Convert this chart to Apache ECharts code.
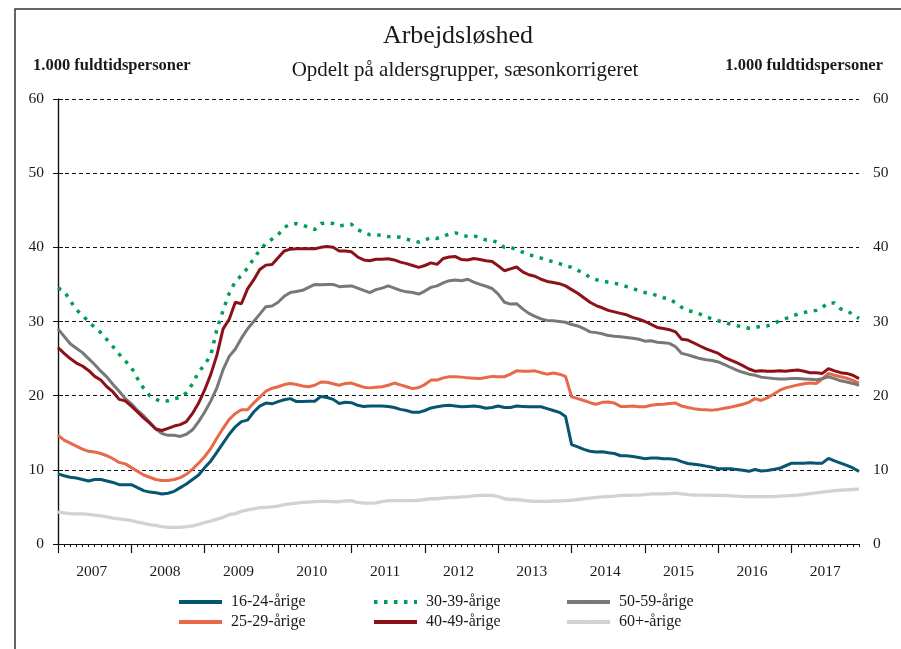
<!DOCTYPE html>
<html>
<head>
<meta charset="UTF-8">
<title>Arbejdsløshed</title>
<script src="https://cdn.jsdelivr.net/npm/echarts@6/dist/echarts.min.js"></script>
<style>
  body { margin:0; background:#fff; }
  #chart { width:901px; height:649px; }
</style>
</head>
<body>
<div id="chart"></div>
<script>
// månedlige tal, jan 2007 - dec 2017 (1.000 fuldtidspersoner)
var years = ['2007','2008','2009','2010','2011','2012','2013','2014','2015','2016','2017'];

var age1624 = [
  9.45, 9.2, 9.0, 8.9, 8.7, 8.5, 8.7, 8.7, 8.5, 8.3, 8.0, 8.0,
  8.0, 7.6, 7.2, 7.0, 6.9, 6.75, 6.85, 7.1, 7.6, 8.1, 8.7, 9.3,
  10.3, 11.2, 12.4, 13.6, 14.8, 15.8, 16.5, 16.7, 17.8, 18.6, 19.0, 18.9,
  19.2, 19.45, 19.6, 19.2, 19.2, 19.25, 19.25, 19.9, 19.75, 19.5, 18.95, 19.1,
  19.05, 18.7, 18.55, 18.6, 18.6, 18.6, 18.55, 18.4, 18.15, 18.0, 17.75, 17.75,
  18.0, 18.35, 18.5, 18.65, 18.7, 18.6, 18.5, 18.55, 18.6, 18.5, 18.3, 18.4,
  18.6, 18.4, 18.4, 18.6, 18.55, 18.5, 18.5, 18.5, 18.25, 18.0, 17.75, 17.2,
  13.4, 13.1, 12.75, 12.5, 12.4, 12.45, 12.3, 12.2, 11.9, 11.9, 11.8, 11.65,
  11.5, 11.6, 11.6, 11.5, 11.5, 11.4, 11.1, 10.85, 10.75, 10.65, 10.5, 10.35,
  10.15, 10.15, 10.15, 10.05, 9.95, 9.8, 10.05, 9.85, 9.9, 10.05, 10.2, 10.55,
  10.9, 10.9, 10.9, 10.95, 10.9, 10.9, 11.55, 11.2, 10.9, 10.6, 10.25, 9.8
];
var age2529 = [
  14.65, 14.0, 13.6, 13.2, 12.8, 12.5, 12.4, 12.2, 11.9, 11.5, 11.0, 10.8,
  10.3, 9.8, 9.3, 9.0, 8.7, 8.55, 8.55, 8.7, 8.95, 9.4, 10.1, 10.9,
  11.8, 12.9, 14.3, 15.6, 16.8, 17.6, 18.1, 18.1, 19.0, 19.8, 20.6, 21.0,
  21.2, 21.5, 21.65, 21.5, 21.3, 21.2, 21.4, 21.85, 21.8, 21.6, 21.4, 21.65,
  21.7, 21.4, 21.15, 21.05, 21.15, 21.2, 21.4, 21.7, 21.45, 21.2, 20.95, 21.1,
  21.5, 22.1, 22.1, 22.4, 22.55, 22.55, 22.5, 22.4, 22.35, 22.3, 22.45, 22.6,
  22.55, 22.55, 22.9, 23.35, 23.3, 23.3, 23.35, 23.1, 22.9, 23.05, 22.9, 22.6,
  19.85, 19.6, 19.35, 19.05, 18.85, 19.1, 19.15, 19.0, 18.55, 18.55, 18.6, 18.5,
  18.5, 18.7, 18.8, 18.85, 18.95, 19.0, 18.6, 18.4, 18.25, 18.15, 18.1, 18.05,
  18.15, 18.3, 18.45, 18.65, 18.85, 19.1, 19.6, 19.35, 19.7, 20.2, 20.7, 21.05,
  21.25, 21.45, 21.6, 21.7, 21.65, 22.25, 23.0, 22.75, 22.55, 22.35, 22.05, 21.7
];
var age3039 = [
  34.5, 34.1, 32.8, 31.6, 30.8, 30.0, 29.2, 28.5, 27.55, 26.6, 25.6, 24.7,
  23.8, 22.3, 21.0, 20.0, 19.5, 19.2, 19.3, 19.6, 19.75, 20.4, 21.6, 23.2,
  24.2, 25.5, 29.0, 31.5, 33.8, 35.4, 36.2, 37.2, 38.5, 39.6, 40.5, 41.1,
  41.7, 42.7, 43.1, 43.2, 43.0, 42.7, 42.4, 43.2, 43.3, 43.2, 42.9, 43.0,
  43.1, 42.4, 42.0, 41.7, 41.7, 41.6, 41.45, 41.4, 41.35, 41.1, 40.9, 40.7,
  41.0, 41.3, 41.2, 41.5, 41.8, 41.95, 41.7, 41.45, 41.55, 41.3, 41.0, 40.95,
  40.6, 40.0, 40.0, 39.7, 39.35, 39.0, 38.8, 38.55, 38.3, 38.05, 37.8, 37.55,
  37.3, 36.9, 36.5, 35.95, 35.65, 35.45, 35.3, 35.15, 35.0, 34.7, 34.45, 34.15,
  33.9, 33.75, 33.5, 33.2, 33.05, 32.5, 31.9, 31.5, 31.25, 31.0, 30.65, 30.35,
  30.1, 29.85, 29.65, 29.45, 29.25, 29.1, 29.2, 29.35, 29.4, 29.7, 30.1, 30.4,
  30.7, 31.0, 31.2, 31.4, 31.5, 31.9, 32.5, 32.5, 31.7, 31.4, 31.0, 30.4
];
var age4049 = [
  26.5, 25.7, 25.0, 24.4, 24.0, 23.4, 22.6, 22.1, 21.2, 20.5, 19.5, 19.3,
  18.6, 17.8, 17.0, 16.3, 15.5, 15.3, 15.6, 15.9, 16.1, 16.5, 17.6, 19.0,
  20.8, 22.9, 25.5, 29.0, 30.3, 32.6, 32.4, 34.4, 35.6, 37.0, 37.6, 37.7,
  38.6, 39.5, 39.75, 39.8, 39.8, 39.8, 39.8, 40.0, 40.1, 40.0, 39.5, 39.5,
  39.4, 38.7, 38.3, 38.2, 38.4, 38.4, 38.45, 38.3, 38.0, 37.8, 37.55, 37.3,
  37.55, 37.9, 37.7, 38.5, 38.7, 38.75, 38.35, 38.3, 38.5, 38.35, 38.2, 38.1,
  37.5, 36.85, 37.1, 37.35, 36.7, 36.3, 36.1, 35.7, 35.4, 35.25, 35.1, 34.8,
  34.3, 33.8, 33.2, 32.6, 32.15, 31.85, 31.5, 31.3, 31.1, 30.9, 30.55, 30.3,
  30.0, 29.6, 29.2, 29.05, 28.9, 28.6, 27.6, 27.5, 27.1, 26.7, 26.3, 26.0,
  25.7, 25.15, 24.8, 24.45, 24.05, 23.6, 23.3, 23.35, 23.3, 23.3, 23.35, 23.3,
  23.4, 23.45, 23.3, 23.1, 23.1, 23.0, 23.65, 23.35, 23.1, 23.0, 22.75, 22.3
];
var age5059 = [
  29.0, 28.0, 27.0, 26.4, 25.8, 25.0, 24.2, 23.3, 22.5, 21.5, 20.6, 19.6,
  18.9, 18.0, 17.3, 16.4, 15.5, 14.9, 14.65, 14.65, 14.5, 14.8, 15.4, 16.5,
  17.8, 19.3, 21.1, 23.5, 25.3, 26.3, 27.75, 29.0, 30.0, 31.0, 32.0, 32.1,
  32.6, 33.4, 33.9, 34.05, 34.2, 34.6, 35.0, 34.95, 35.0, 35.0, 34.7, 34.75,
  34.8, 34.5, 34.2, 33.9, 34.3, 34.5, 34.8, 34.5, 34.2, 34.0, 33.9, 33.7,
  34.1, 34.6, 34.8, 35.2, 35.5, 35.6, 35.5, 35.7, 35.3, 35.0, 34.75, 34.45,
  33.7, 32.6, 32.35, 32.4, 31.7, 31.1, 30.7, 30.35, 30.15, 30.1, 30.0, 29.9,
  29.6, 29.4, 29.05, 28.6, 28.5, 28.35, 28.1, 28.0, 27.95, 27.85, 27.75, 27.6,
  27.35, 27.4, 27.2, 27.15, 27.05, 26.6, 25.7, 25.5, 25.25, 25.0, 24.85, 24.75,
  24.55, 24.2, 23.8, 23.45, 23.15, 22.9, 22.75, 22.5, 22.4, 22.3, 22.25, 22.25,
  22.3, 22.3, 22.25, 22.2, 22.15, 22.3, 22.55, 22.3, 22.0, 21.85, 21.65, 21.4
];
var age60 = [
  4.3, 4.2, 4.1, 4.05, 4.05, 4.0, 3.9, 3.8, 3.65, 3.5, 3.4, 3.3,
  3.15, 2.95, 2.8, 2.6, 2.5, 2.35, 2.25, 2.25, 2.25, 2.35, 2.45, 2.65,
  2.9, 3.1, 3.35, 3.6, 3.95, 4.1, 4.4, 4.6, 4.75, 4.9, 4.95, 5.0,
  5.1, 5.3, 5.4, 5.5, 5.6, 5.65, 5.7, 5.75, 5.75, 5.7, 5.7, 5.8,
  5.85, 5.6, 5.5, 5.5, 5.55, 5.7, 5.85, 5.85, 5.85, 5.85, 5.85, 5.9,
  6.0, 6.1, 6.1, 6.2, 6.25, 6.3, 6.35, 6.4, 6.5, 6.55, 6.55, 6.55,
  6.4, 6.1, 6.0, 6.0, 5.9, 5.8, 5.75, 5.75, 5.75, 5.8, 5.8, 5.85,
  5.9, 6.0, 6.1, 6.2, 6.3, 6.35, 6.4, 6.45, 6.55, 6.55, 6.6, 6.6,
  6.65, 6.75, 6.75, 6.75, 6.8, 6.85, 6.75, 6.65, 6.6, 6.6, 6.6, 6.55,
  6.55, 6.55, 6.5, 6.45, 6.4, 6.4, 6.4, 6.4, 6.4, 6.4, 6.45, 6.5,
  6.55, 6.6, 6.7, 6.8, 6.9, 7.0, 7.1, 7.2, 7.25, 7.3, 7.35, 7.4
];

var seriesNames = ['16-24-årige', '25-29-årige', '30-39-årige', '40-49-årige', '50-59-årige', '60+-årige'];
var seriesColors = ['#065670', '#e8694a', '#009e55', '#8c1119', '#787878', '#d2d2d2'];

var serif = '"Liberation Serif", "DejaVu Serif", serif';
var textColor = '#1a1a1a';

function toPoints(arr) {
  var out = [];
  for (var i = 0; i < arr.length; i++)
    out.push([i, arr[i]]);
  return out;
}

var lastMonth = age1624.length - 1;
var yearTicks = [], yearCenters = [], monthTicks = [];
for (var y = 0; y < years.length; y++) {
  yearTicks.push(y * 12);
  yearCenters.push(y * 12 + 5.5);
}
for (var m = 0; m <= lastMonth; m++)
  monthTicks.push(m);

function makeLine(idx, data, dotted) {
  return {
    name: seriesNames[idx],
    type: 'line',
    xAxisIndex: 0,
    yAxisIndex: 0,
    data: toPoints(data),
    symbol: 'none',
    z: idx === 5 ? 1 : 3,
    color: seriesColors[idx],
    lineStyle: dotted
      ? { width: 3.5, color: seriesColors[idx], type: [3.5, 6.5], cap: 'butt' }
      : { width: idx === 5 ? 3.3 : 3, color: seriesColors[idx] }
  };
}

function makeLegend(left, names) {
  return {
    orient: 'vertical',
    left: left,
    top: 593,
    padding: 0,
    itemWidth: 43,
    itemHeight: 4,
    itemGap: 2,
    data: names,
    selectedMode: false,
    textStyle: { fontFamily: serif, fontSize: 16, color: textColor, lineHeight: 18, padding: [0, 0, 0, 4] },
    lineStyle: { width: 4 }
  };
}

var chart = echarts.init(document.getElementById('chart'));

var option = {
  animation: false,
  backgroundColor: '#fff',
  grid: { left: 58, right: 42, top: 99, bottom: 105 },
  graphic: [
    { type: 'rect', shape: { x: 15, y: 9, width: 1000, height: 1000 },
      style: { fill: 'none', stroke: '#333', lineWidth: 1.5 }, silent: true },
    { type: 'text', x: 458, y: 36,
      style: { text: 'Arbejdsløshed', fontFamily: serif, fontSize: 26, fill: textColor, align: 'center', verticalAlign: 'middle' } },
    { type: 'text', x: 465, y: 70,
      style: { text: 'Opdelt på aldersgrupper, sæsonkorrigeret', fontFamily: serif, fontSize: 21, fill: textColor, align: 'center', verticalAlign: 'middle' } },
    { type: 'text', x: 33, y: 66,
      style: { text: '1.000 fuldtidspersoner', fontFamily: serif, fontSize: 16.5, fontWeight: 'bold', fill: textColor, align: 'left', verticalAlign: 'middle' } },
    { type: 'text', x: 883, y: 66,
      style: { text: '1.000 fuldtidspersoner', fontFamily: serif, fontSize: 16.5, fontWeight: 'bold', fill: textColor, align: 'right', verticalAlign: 'middle' } }
  ],
  legend: [
    makeLegend(177, [seriesNames[0], seriesNames[1]]),
    makeLegend(372, [seriesNames[2], seriesNames[3]]),
    makeLegend(565, [seriesNames[4], seriesNames[5]])
  ],
  xAxis: [
    {
      // månedsstreger
      type: 'value', min: 0, max: lastMonth, interval: 12,
      axisLine: { show: true, lineStyle: { color: '#111', width: 1.2 } },
      axisTick: { show: true, customValues: monthTicks, length: 3, lineStyle: { color: '#111', width: 1 } },
      axisLabel: { show: false },
      splitLine: { show: false }
    },
    {
      // årsstreger og årstal
      type: 'value', min: 0, max: lastMonth, interval: 12, position: 'bottom',
      axisLine: { show: false },
      axisTick: { show: true, customValues: yearTicks, length: 9, lineStyle: { color: '#111', width: 1.2 } },
      axisLabel: {
        show: true, customValues: yearCenters, margin: 20,
        fontFamily: serif, fontSize: 15.5, color: textColor,
        formatter: function (v) { return years[Math.floor(v / 12)]; }
      },
      splitLine: { show: false }
    }
  ],
  yAxis: [
    {
      type: 'value', min: 0, max: 60, interval: 10, position: 'left',
      axisLine: { show: true, lineStyle: { color: '#111', width: 1.2 } },
      axisTick: { show: true, length: 5, lineStyle: { color: '#111' } },
      axisLabel: { margin: 14, fontFamily: serif, fontSize: 15.5, color: textColor },
      splitLine: { show: true, lineStyle: { color: '#111', type: [4, 3], width: 1 } }
    },
    {
      type: 'value', min: 0, max: 60, interval: 10, position: 'right',
      axisLine: { show: true, lineStyle: { color: '#111', width: 1.2 } },
      axisTick: { show: true, length: 5, lineStyle: { color: '#111' } },
      axisLabel: { margin: 14, fontFamily: serif, fontSize: 15.5, color: textColor },
      splitLine: { show: false }
    }
  ],
  series: [
    makeLine(5, age60, false),
    makeLine(0, age1624, false),
    makeLine(1, age2529, false),
    makeLine(4, age5059, false),
    makeLine(3, age4049, false),
    makeLine(2, age3039, true)
  ]
};

chart.setOption(option);
</script>
</body>
</html>
